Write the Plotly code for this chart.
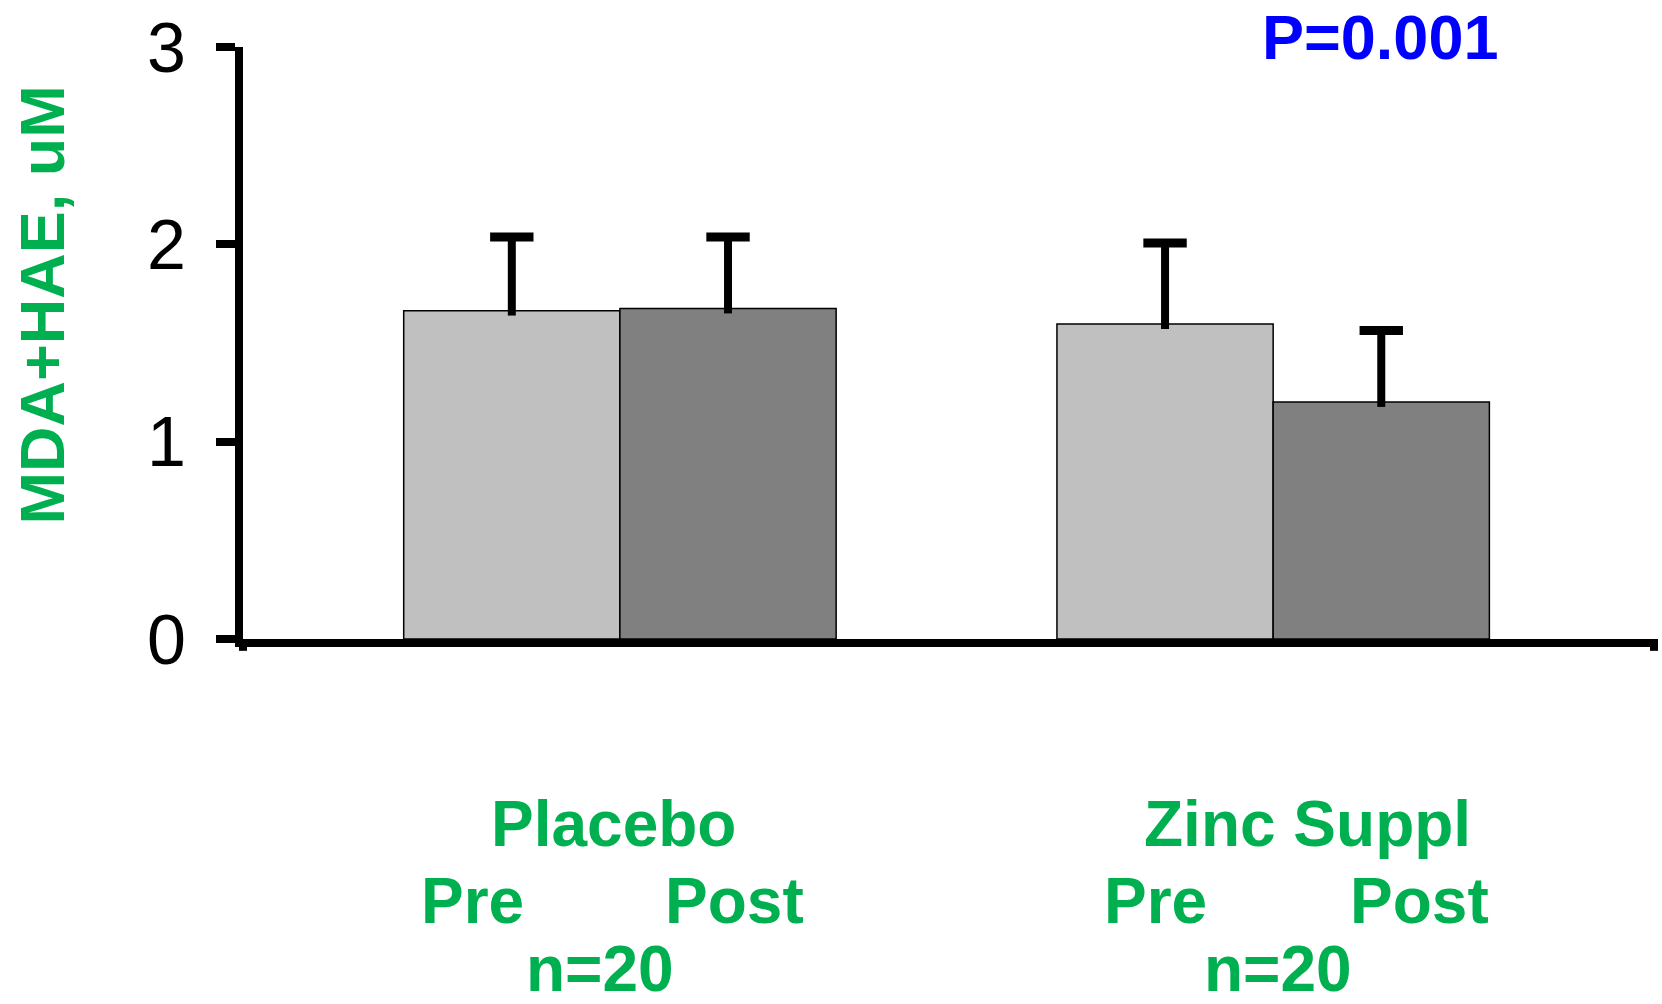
import plotly.graph_objects as go

groups = ["Placebo", "Zinc Suppl"]
pre_values = [1.664, 1.596]
post_values = [1.675, 1.201]
pre_errors = [0.373, 0.411]
post_errors = [0.362, 0.362]
y_ticks = [0, 1, 2, 3]
n_labels = ["n=20", "n=20"]
sub_labels = ["Pre", "Post"]
y_title = "MDA+HAE, uM"
p_text = "P=0.001"

GREEN = "#00B050"
FONT = "Liberation Sans, Arial, sans-serif"
BAR_W = 0.331
STEM_DIP = 0.025

group_idx = list(range(len(groups)))
pre_x = [i - BAR_W / 2 for i in group_idx]
post_x = [i + BAR_W / 2 for i in group_idx]

fig = go.Figure()
for xs, vals, errs, col, nm in [(pre_x, pre_values, pre_errors, "#C0C0C0", "Pre"),
                                (post_x, post_values, post_errors, "#808080", "Post")]:
    fig.add_trace(go.Bar(
        x=xs, y=vals, name=nm, width=BAR_W,
        marker=dict(color=col, line=dict(color="black", width=1.5)),
        error_y=dict(type="data", array=errs, arrayminus=[STEM_DIP] * len(vals), symmetric=False,
                     color="black", thickness=8, width=0),
    ))
    fig.add_trace(go.Scatter(
        x=xs, y=[v + e for v, e in zip(vals, errs)], mode="markers",
        marker=dict(symbol="line-ew", size=31, line=dict(color="black", width=9)),
        hoverinfo="skip",
    ))

annotations = []
label_font = dict(family=FONT, size=64, color=GREEN)
group_offsets = [-0.01, 0.052]
n_offsets = [-0.03, 0.007]
sub_offsets = [[-0.225, 0.176], [-0.18, 0.224]]
for i, g in enumerate(groups):
    annotations.append(dict(x=i + group_offsets[i], y=-0.313, xref="x", yref="paper",
                            text="<b>%s</b>" % g, showarrow=False, font=label_font,
                            xanchor="center", yanchor="middle"))
    for j, s in enumerate(sub_labels):
        annotations.append(dict(x=i + sub_offsets[i][j], y=-0.442, xref="x", yref="paper",
                                text="<b>%s</b>" % s, showarrow=False, font=label_font,
                                xanchor="center", yanchor="middle"))
    annotations.append(dict(x=i + n_offsets[i], y=-0.558, xref="x", yref="paper",
                            text="<b>%s</b>" % n_labels[i], showarrow=False, font=label_font,
                            xanchor="center", yanchor="middle"))

annotations.append(dict(x=-0.1424, y=0.5635, xref="paper", yref="paper", text="<b>%s</b>" % y_title,
                        textangle=-90, showarrow=False, font=dict(family=FONT, size=63, color=GREEN),
                        xanchor="center", yanchor="middle"))
annotations.append(dict(x=0.806, y=1.017, xref="paper", yref="paper", text="<b>%s</b>" % p_text,
                        showarrow=False, font=dict(family=FONT, size=63, color="#0000FF"),
                        xanchor="center", yanchor="middle"))

shapes = [
    dict(type="line", xref="paper", yref="paper", x0=0, x1=0, y0=0, y1=-0.02,
         line=dict(color="black", width=8)),
    dict(type="line", xref="paper", yref="paper", x0=1, x1=1, y0=0, y1=-0.02,
         line=dict(color="black", width=8)),
]

fig.update_layout(
    width=1662, height=1004,
    margin=dict(l=243, r=8, t=45, b=365),
    plot_bgcolor="white", paper_bgcolor="white",
    showlegend=False,
    annotations=annotations,
    shapes=shapes,
    xaxis=dict(range=[-0.577, 1.583], showticklabels=False, ticks="",
               showline=True, linecolor="black", linewidth=8, showgrid=False, zeroline=False),
    yaxis=dict(range=[0, 3], tickvals=y_ticks, ticks="outside", ticklen=19, tickwidth=8,
               tickcolor="black", showline=True, linecolor="black", linewidth=8,
               showgrid=False, zeroline=False, ticklabelstandoff=16,
               tickfont=dict(family=FONT, size=70, color="black")),
)

fig.write_html("out.html")
